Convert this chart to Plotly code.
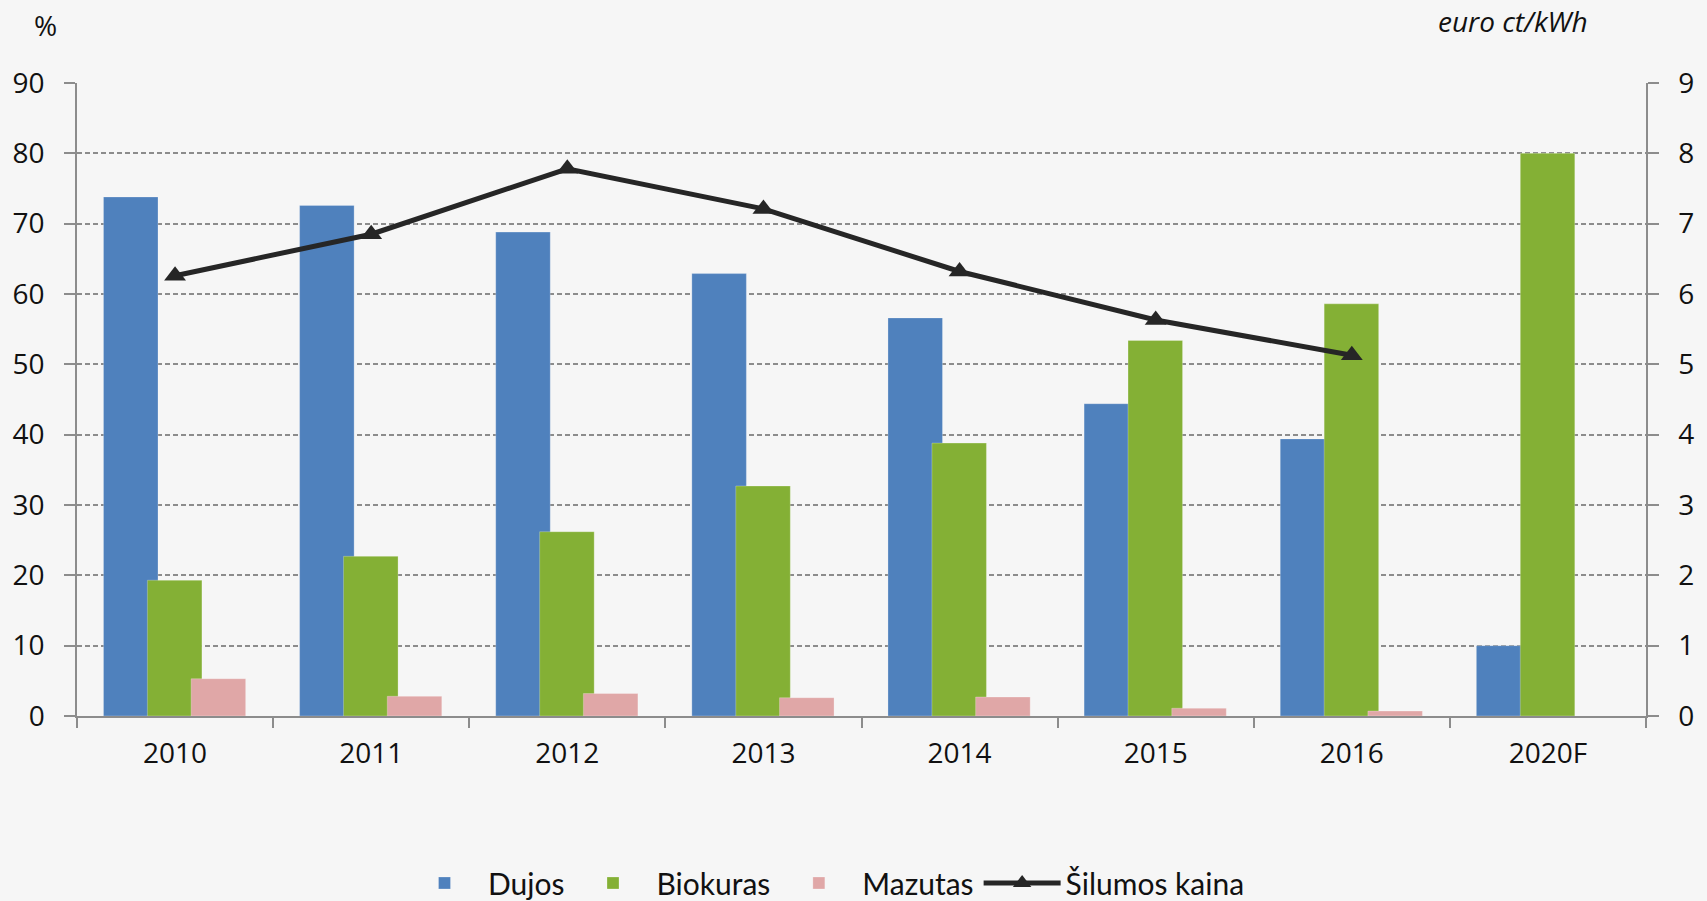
import plotly.graph_objects as go

categories = ["2010", "2011", "2012", "2013", "2014", "2015", "2016", "2020F"]
dujos = [73.8, 72.6, 68.8, 62.9, 56.6, 44.4, 39.4, 10.0]
biokuras = [19.3, 22.7, 26.2, 32.7, 38.8, 53.4, 58.6, 80.0]
mazutas = [5.3, 2.8, 3.2, 2.6, 2.7, 1.1, 0.7, None]
kaina = [6.26, 6.85, 7.78, 7.21, 6.32, 5.63, 5.13, None]
left_ticks = list(range(0, 91, 10))
right_ticks = list(range(0, 10))

AX = "#8c8c8c"
BG = "#f6f6f6"
FONT = "Open Sans"
LEG_FONT = "Lato, Open Sans"

fig = go.Figure()
bw = 0.278
fig.add_trace(go.Bar(x=categories, y=dujos, name="Dujos", width=bw, offset=-0.365,
                     marker=dict(color="#4f81bd", line=dict(color="rgba(255,255,255,0.25)", width=1))))
fig.add_trace(go.Bar(x=categories, y=biokuras, name="Biokuras", width=bw, offset=-0.141,
                     marker=dict(color="#84b035", line=dict(color="rgba(255,255,255,0.25)", width=1))))
fig.add_trace(go.Bar(x=categories, y=mazutas, name="Mazutas", width=bw, offset=0.082,
                     marker=dict(color="#e0a7a7", line=dict(color="rgba(255,255,255,0.25)", width=1))))
fig.add_trace(go.Scatter(x=categories, y=kaina, name="Šilumos kaina", yaxis="y2",
                         mode="lines+markers",
                         line=dict(color="#262626", width=5),
                         marker=dict(symbol="triangle-up", size=19, color="#262626")))

fig.update_layout(
    width=1707, height=901,
    margin=dict(l=77, r=61, t=83, b=185),
    paper_bgcolor=BG, plot_bgcolor=BG,
    barmode="overlay",
    font=dict(family=FONT, size=28, color="#111111"),
    xaxis=dict(type="category", range=[-0.5, 7.5], tickson="boundaries",
               ticks="outside", ticklen=10, tickwidth=1.5, tickcolor=AX,
               showline=True, linecolor=AX, linewidth=1.5,
               showgrid=False, ticklabelstandoff=12,
               tickfont=dict(family=FONT, size=28)),
    yaxis=dict(range=[0, 90], tickvals=left_ticks, showgrid=True,
               gridcolor=AX, griddash="5px,3px", gridwidth=1.6,
               zeroline=False, showline=True, linecolor=AX, linewidth=1.5,
               ticks="outside", ticklen=11, tickwidth=1.5, tickcolor=AX,
               ticklabelstandoff=14, tickfont=dict(family=FONT, size=28)),
    yaxis2=dict(range=[0, 9], tickvals=right_ticks, overlaying="y", side="right",
                showgrid=False, zeroline=False, showline=True, linecolor=AX, linewidth=1.5,
                ticks="outside", ticklen=11, tickwidth=1.5, tickcolor=AX,
                ticklabelstandoff=14, tickfont=dict(family=FONT, size=28)),
    legend=dict(orientation="h", x=0.2065, xanchor="left",
                yref="container", y=0.020, yanchor="middle",
                font=dict(family=LEG_FONT, size=30, color="#111111"),
                bgcolor="rgba(0,0,0,0)", traceorder="normal", itemwidth=77),
    showlegend=True,
    annotations=[
        dict(text="%", xref="paper", yref="paper", x=-0.0198, y=1.092,
             xanchor="center", yanchor="middle", showarrow=False,
             font=dict(family=FONT, size=28)),
        dict(text="<i>euro ct/kWh</i>", xref="paper", yref="paper", x=0.915, y=1.098,
             xanchor="center", yanchor="middle", showarrow=False,
             font=dict(family=FONT, size=28)),
    ],
)

fig.write_html("out.html", config={"displayModeBar": False},
               post_script="document.body.style.margin='0';document.body.style.overflow='hidden';")
